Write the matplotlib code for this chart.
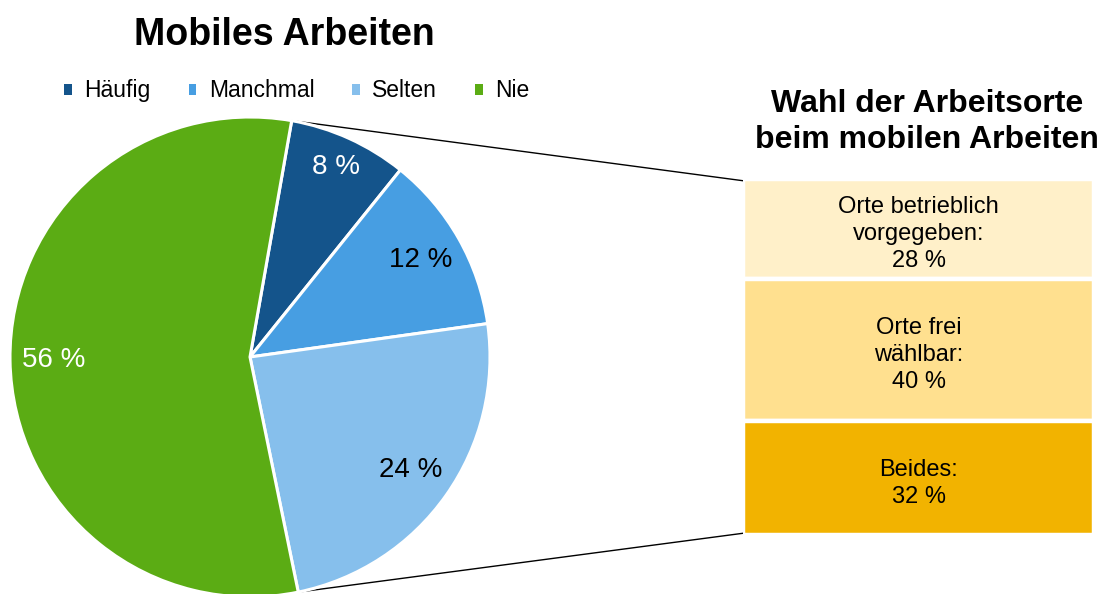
import numpy as np
import matplotlib
matplotlib.use("Agg")
import matplotlib.pyplot as plt

plt.rcParams['font.family'] = ['Liberation Sans', 'DejaVu Sans']

# Daten
pie_labels = ["Häufig", "Manchmal", "Selten", "Nie"]
pie_values = [8, 12, 24, 56]
pie_colors = ["#14548B", "#479EE2", "#86BFEC", "#5BAC14"]
pie_text_colors = ["white", "black", "black", "white"]

bar_labels = ["Orte betrieblich\nvorgegeben:", "Orte frei\nwählbar:", "Beides:"]
bar_values = [28, 40, 32]
bar_colors = ["#FFF0C9", "#FFE08F", "#F2B300"]

W, H = 1102, 594
fig = plt.figure(figsize=(W / 100, H / 100), dpi=100)

# Hauptachse in Pixelkoordinaten (y nach oben)
ax = fig.add_axes([0, 0, 1, 1])
cx, cy, r = 250, H - 357, 240
start = 80
wedges, texts, autotexts = ax.pie(
    pie_values, colors=pie_colors, startangle=start, counterclock=False,
    center=(cx, cy), radius=r, autopct=lambda p: f"{p:.0f} %", pctdistance=0.82,
    wedgeprops=dict(edgecolor="white", linewidth=2.2), textprops=dict(fontsize=20))
for t, c in zip(autotexts, pie_text_colors):
    t.set_color(c)
# 8 % etwas weiter aussen
mid = np.deg2rad(start - 360 * pie_values[0] / 200)
autotexts[0].set_position((cx + 0.87 * r * np.cos(mid), cy + 0.87 * r * np.sin(mid)))

ax.set_xlim(0, W)
ax.set_ylim(0, H)
ax.set_aspect("auto")
ax.axis("off")

# Stapelbalken rechts
bx0, bx1, by0, by1 = 745, 1092, 181, 533
ax2 = fig.add_axes([(bx0 - 2) / W, (H - by1 - 2) / H, (bx1 - bx0 + 4) / W, (by1 - by0 + 4) / H])
bottom = 0
for lab, val, col in zip(bar_labels, bar_values, bar_colors):
    ax2.bar(0, val, bottom=bottom, width=1, color=col, edgecolor="white", linewidth=3.2)
    ax2.text(0, bottom + val / 2 + 1.5, f"{lab}\n{val} %", ha="center", va="center",
             fontsize=17, linespacing=1.28)
    bottom += val
ax2.set_xlim(-0.5, 0.5)
ax2.set_ylim(100, 0)
ax2.axis("off")

# Verbindungslinien
share = sum(pie_values[:3]) / 100
a0 = np.deg2rad(start)
a1 = np.deg2rad(start - 360 * share)
ax.plot([cx + r * np.cos(a0), bx0], [cy + r * np.sin(a0), H - by0], color="black", lw=1.0, zorder=0)
ax.plot([cx + r * np.cos(a1), bx0], [cy + r * np.sin(a1), H - by1], color="black", lw=1.0, zorder=0)

# Titel
fig.text(284 / W, 1 - 35 / H, "Mobiles Arbeiten", ha="center", va="center",
         fontsize=27, fontweight="bold")
fig.text(927 / W, 1 - 122 / H, "Wahl der Arbeitsorte\nbeim mobilen Arbeiten", ha="center",
         va="center", fontsize=23, fontweight="bold", linespacing=1.22)

# Legende
leg = fig.legend(wedges, pie_labels, loc="center", bbox_to_anchor=(297 / W, 1 - 91 / H),
                 ncol=4, frameon=False, fontsize=16.5, handlelength=0.33, handleheight=0.33,
                 handletextpad=0.55, columnspacing=1.65)
for h in leg.legend_handles:
    h.set_edgecolor("none")

fig.savefig("out.png", dpi=100)
